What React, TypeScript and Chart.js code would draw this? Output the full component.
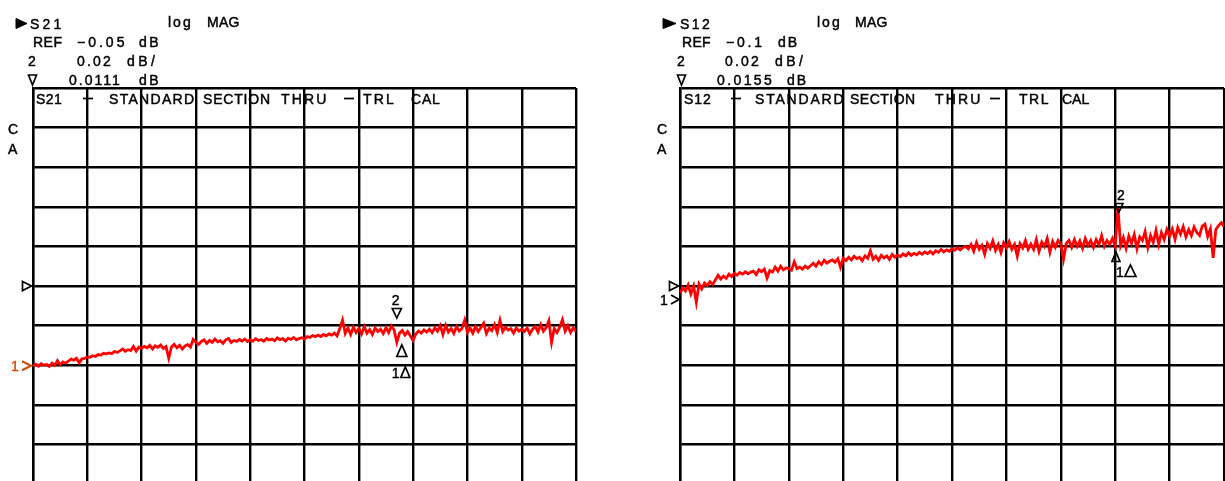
import React, { useEffect, useRef } from "react";
import { Chart, registerables } from "chart.js";

Chart.register(...registerables);

// ---------------- data ----------------
const POINT_COUNT = 201;
const POINT_INDEX: number[] = Array.from({ length: POINT_COUNT }, (_, i) => i);

const S21_DB: number[] = [
  -0.0903, -0.0895, -0.0905, -0.0892, -0.09, -0.0897, -0.0906, -0.089, -0.0901, -0.0877,
  -0.0898, -0.0884, -0.089, -0.088, -0.0869, -0.0875, -0.0865, -0.0888, -0.0868, -0.0866,
  -0.0858, -0.086, -0.0852, -0.0856, -0.0846, -0.0849, -0.084, -0.0843, -0.0838, -0.0842,
  -0.083, -0.0836, -0.0828, -0.0818, -0.083, -0.0822, -0.0826, -0.0805, -0.0829, -0.0808,
  -0.0815, -0.0805, -0.0812, -0.08, -0.0818, -0.0802, -0.081, -0.0798, -0.0815, -0.0806,
  -0.0865, -0.0808, -0.0795, -0.0812, -0.08, -0.0818, -0.0803, -0.0796, -0.0808, -0.077,
  -0.0785, -0.0795, -0.078, -0.0772, -0.079, -0.0775, -0.0785, -0.0768, -0.0782, -0.0776,
  -0.079, -0.0772, -0.0765, -0.0785, -0.0775, -0.078, -0.077, -0.0778, -0.0768, -0.078,
  -0.0772, -0.0778, -0.0766, -0.0775, -0.077, -0.0779, -0.0765, -0.0773, -0.0768, -0.0776,
  -0.0762, -0.0771, -0.0766, -0.0778, -0.0764, -0.077, -0.076, -0.0772, -0.0765, -0.0761,
  -0.0768, -0.0755, -0.076, -0.075, -0.0756, -0.0748, -0.0755, -0.0745, -0.0752, -0.0742,
  -0.0748, -0.0738, -0.0752, -0.0715, -0.0672, -0.074, -0.0712, -0.0745, -0.0708, -0.0735,
  -0.0715, -0.0742, -0.0705, -0.0738, -0.072, -0.0745, -0.0712, -0.073, -0.0718, -0.074,
  -0.071, -0.0735, -0.0702, -0.0722, -0.0785, -0.0738, -0.0725, -0.0748, -0.073, -0.0752,
  -0.0775, -0.0742, -0.0728, -0.0738, -0.0722, -0.0733, -0.0718, -0.0735, -0.0712, -0.0728,
  -0.07, -0.0745, -0.0698, -0.0732, -0.0715, -0.074, -0.0705, -0.0728, -0.0715, -0.0672,
  -0.0735, -0.0712, -0.0738, -0.0705, -0.073, -0.071, -0.0688, -0.074, -0.0712, -0.0725,
  -0.0695, -0.0735, -0.0673, -0.073, -0.0708, -0.0722, -0.0715, -0.0738, -0.0712, -0.0728,
  -0.0718, -0.073, -0.0712, -0.0742, -0.0718, -0.0705, -0.0732, -0.0695, -0.0728, -0.071,
  -0.0675, -0.0785, -0.0715, -0.0735, -0.0708, -0.067, -0.0728, -0.07, -0.0735, -0.0712,
  -0.0728,
];

const S12_DB: number[] = [
  -0.1037, -0.101, -0.1025, -0.0995, -0.104, -0.1, -0.1082, -0.099, -0.1015, -0.0985,
  -0.0998, -0.0978, -0.0992, -0.097, -0.0945, -0.0965, -0.095, -0.0962, -0.094, -0.0952,
  -0.0936, -0.0945, -0.0932, -0.094, -0.0928, -0.0938, -0.093, -0.0925, -0.0942, -0.0918,
  -0.0928, -0.0915, -0.096, -0.0922, -0.093, -0.0905, -0.0925, -0.09, -0.0918, -0.0908,
  -0.0912, -0.092, -0.0878, -0.0912, -0.0905, -0.0915, -0.09, -0.091, -0.0898, -0.0885,
  -0.09, -0.0878, -0.0892, -0.087, -0.0885, -0.0875, -0.0868, -0.088, -0.0862, -0.0905,
  -0.086, -0.0872, -0.0855, -0.0868, -0.085, -0.0862, -0.0855, -0.0872, -0.0848, -0.086,
  -0.0822, -0.0865, -0.085, -0.087, -0.0845, -0.0858, -0.0848, -0.0866, -0.084, -0.0855,
  -0.0843, -0.0852, -0.0838, -0.0848, -0.0832, -0.0845, -0.0835, -0.0842, -0.083, -0.084,
  -0.0828, -0.0836, -0.0825, -0.0838, -0.0822, -0.083, -0.0815, -0.0828, -0.0818, -0.0825,
  -0.0812, -0.082, -0.0806, -0.0818, -0.0805, -0.08, -0.0812, -0.079, -0.0825, -0.078,
  -0.0815, -0.0795, -0.084, -0.0785, -0.081, -0.0772, -0.082, -0.079, -0.0832, -0.0782,
  -0.0805, -0.0775, -0.0815, -0.079, -0.085, -0.0785, -0.0808, -0.077, -0.0815, -0.0788,
  -0.0815, -0.0765, -0.0825, -0.0778, -0.08, -0.076, -0.083, -0.0775, -0.0805, -0.077,
  -0.079, -0.0865, -0.0785, -0.077, -0.0805, -0.0765, -0.08, -0.0772, -0.081, -0.076,
  -0.0795, -0.077, -0.0805, -0.0765, -0.0792, -0.0745, -0.08, -0.077, -0.079, -0.076,
  -0.08, -0.0605, -0.0795, -0.0755, -0.081, -0.0748, -0.0785, -0.074, -0.0812, -0.0752,
  -0.077, -0.0725, -0.0805, -0.0745, -0.078, -0.072, -0.079, -0.073, -0.0765, -0.0715,
  -0.0748, -0.0712, -0.0765, -0.0705, -0.0738, -0.07, -0.0752, -0.0715, -0.0745, -0.0702,
  -0.073, -0.0745, -0.0698, -0.0688, -0.075, -0.0712, -0.0858, -0.0715, -0.0695, -0.068,
  -0.07,
];

const S21_REF_DB = -0.05;
const S12_REF_DB = -0.1;
const DB_PER_DIV = 0.02;
const DIVISIONS = 10;

const S21_HEADER = { param: "S21", ref: "\u22120.05", scale: "0.02", delta: "0.0111" };
const S12_HEADER = { param: "S12", ref: "\u22120.1", scale: "0.02", delta: "0.0155" };
const TITLE_WORDS = ["STANDARD", "SECTION", "THRU", "TRL", "CAL"];

const S21_MARKER2_INDEX = 134;
const S12_MARKER2_INDEX = 161;

// ---------------- drawing helpers ----------------
const FONT = "14px 'Liberation Sans', Arial, sans-serif";

type Pt = [number, number];

function poly(ctx: CanvasRenderingContext2D, pts: Pt[], close: boolean, fill: boolean, color = "#000", lw = 1.7) {
  ctx.save();
  ctx.beginPath();
  ctx.moveTo(pts[0][0], pts[0][1]);
  for (let i = 1; i < pts.length; i++) ctx.lineTo(pts[i][0], pts[i][1]);
  if (close) ctx.closePath();
  ctx.lineWidth = lw;
  ctx.strokeStyle = color;
  ctx.fillStyle = color;
  ctx.lineJoin = "miter";
  if (fill) ctx.fill();
  ctx.stroke();
  ctx.restore();
}

function txt(ctx: CanvasRenderingContext2D, s: string, x: number, y: number, spacing = 0, color = "#000") {
  ctx.save();
  ctx.font = FONT;
  (ctx as any).letterSpacing = spacing + "px";
  ctx.fillStyle = color;
  ctx.strokeStyle = color;
  ctx.lineWidth = 0.45;
  ctx.textBaseline = "alphabetic";
  ctx.textAlign = "left";
  ctx.fillText(s, x, y);
  ctx.strokeText(s, x, y);
  ctx.restore();
}

type Layout = {
  offsetX: number;
  header: { param: string; ref: string; scale: string; delta: string };
  markerIndex: number;
  isLeft: boolean;
};

function makeOverlay(L: Layout) {
  return {
    id: "vnaOverlay" + (L.isLeft ? "L" : "R"),
    afterDraw(chart: any) {
      const ctx: CanvasRenderingContext2D = chart.ctx;
      const o = L.offsetX;
      const X = (px: number) => px - o;
      const xs = chart.scales.x;
      const ys = chart.scales.y;
      const h = L.header;

      if (L.isLeft) {
        // header
        poly(ctx, [[X(16), 18.5], [X(27), 23.5], [X(16), 28.5]], true, true, "#000", 1);
        txt(ctx, h.param, X(30), 29, 3.2);
        txt(ctx, "log", X(168), 26.5, 2);
        txt(ctx, "MAG", X(207), 26.5, 0.3);
        txt(ctx, "REF", X(33), 47, 0.5);
        txt(ctx, h.ref, X(77), 47, 3);
        txt(ctx, "dB", X(139), 47, 2.5);
        txt(ctx, "2", X(28), 66);
        txt(ctx, h.scale, X(77), 66, 2.2);
        txt(ctx, "dB/", X(127), 66, 3.5);
        poly(ctx, [[X(28.5), 75], [X(36.5), 75], [X(32.5), 85]], true, false);
        txt(ctx, h.delta, X(69), 85, 2);
        txt(ctx, "dB", X(139), 85, 2.5);
        // title row
        txt(ctx, h.param, X(36), 104, 0.5);
        poly(ctx, [[X(83), 98.5], [X(93), 98.5]], false, false, "#000", 1.7);
        txt(ctx, TITLE_WORDS[0], X(109), 104, 1.3);
        txt(ctx, TITLE_WORDS[1], X(203), 104, 0.8);
        txt(ctx, TITLE_WORDS[2], X(281), 104, 2.2);
        poly(ctx, [[X(344), 98.5], [X(354), 98.5]], false, false, "#000", 1.7);
        txt(ctx, TITLE_WORDS[3], X(363), 104, 2.2);
        txt(ctx, TITLE_WORDS[4], X(411), 104, 0.8);
        // C / A
        txt(ctx, "C", X(8), 134);
        txt(ctx, "A", X(8), 154);
        // reference position marker
        const ry = ys.getPixelForValue(S21_REF_DB);
        poly(ctx, [[X(22.5), ry - 4.5], [X(31.5), ry], [X(22.5), ry + 4.5]], true, false);
        // marker 1 (start)
        const m1y = ys.getPixelForValue(S21_DB[0]);
        txt(ctx, "1", X(11), m1y + 5, 0, "#c8500a");
        poly(ctx, [[X(22), m1y - 4.5], [X(31), m1y], [X(22), m1y + 4.5]], false, false, "#c8500a", 2.2);
        // marker 2
        const mx = xs.getPixelForValue(L.markerIndex);
        txt(ctx, "2", mx - 5, 305);
        poly(ctx, [[mx - 4.5, 308.5], [mx + 4.5, 308.5], [mx, 318]], true, false);
        poly(ctx, [[mx, 356.5], [mx + 10, 356.5], [mx + 5, 345]], true, false);
        txt(ctx, "1", mx - 5, 378);
        poly(ctx, [[mx + 4, 377.5], [mx + 13, 377.5], [mx + 8.5, 367]], true, false);
      } else {
        poly(ctx, [[X(663), 18.5], [X(676), 23.5], [X(663), 28.5]], true, true, "#000", 1);
        txt(ctx, h.param, X(680), 29, 2.5);
        txt(ctx, "log", X(817), 26.5, 2);
        txt(ctx, "MAG", X(855), 26.5, 0.3);
        txt(ctx, "REF", X(682), 47, 0.3);
        txt(ctx, h.ref, X(726), 47, 2.8);
        txt(ctx, "dB", X(778), 47, 2);
        txt(ctx, "2", X(677), 66);
        txt(ctx, h.scale, X(725), 66, 2.2);
        txt(ctx, "dB/", X(775), 66, 3.5);
        poly(ctx, [[X(677.5), 75], [X(685.5), 75], [X(681.5), 85]], true, false);
        txt(ctx, h.delta, X(717), 85, 2.4);
        txt(ctx, "dB", X(787), 85, 2);
        // title row
        txt(ctx, h.param, X(684), 104, 1);
        poly(ctx, [[X(731), 98.5], [X(741), 98.5]], false, false, "#000", 1.7);
        txt(ctx, TITLE_WORDS[0], X(755), 104, 1.8);
        txt(ctx, TITLE_WORDS[1], X(850), 104, 0.5);
        txt(ctx, TITLE_WORDS[2], X(935), 104, 2.2);
        poly(ctx, [[X(990), 98.5], [X(1000), 98.5]], false, false, "#000", 1.7);
        txt(ctx, TITLE_WORDS[3], X(1019), 104, 1.5);
        txt(ctx, TITLE_WORDS[4], X(1062), 104, 0);
        txt(ctx, "C", X(657), 134);
        txt(ctx, "A", X(657), 154);
        const ry = ys.getPixelForValue(S12_REF_DB);
        poly(ctx, [[X(669.5), ry - 4.5], [X(678.5), ry], [X(669.5), ry + 4.5]], true, false);
        txt(ctx, "1", X(660), 304.5);
        poly(ctx, [[X(671), 295], [X(679), 299.5], [X(671), 304]], false, false, "#000", 1.9);
        const mx = xs.getPixelForValue(L.markerIndex);
        txt(ctx, "2", mx - 1, 200);
        poly(ctx, [[mx - 3, 203.5], [mx + 5, 203.5], [mx + 1, 212]], true, false);
        poly(ctx, [[mx - 6, 261.5], [mx + 2, 261.5], [mx - 2, 252]], true, false);
        txt(ctx, "1", mx - 2, 277);
        poly(ctx, [[mx + 7, 276.5], [mx + 18, 276.5], [mx + 12.5, 265]], true, false);
      }
    },
  };
}

function buildConfig(values: number[], ref: number, L: Layout, pad: { left: number; right: number; top: number; bottom: number }) {
  const half = (DB_PER_DIV * DIVISIONS) / 2;
  return {
    type: "line" as const,
    data: {
      datasets: [
        {
          data: values.map((v, i) => ({ x: POINT_INDEX[i], y: v })),
          borderColor: "#ff0000",
          borderWidth: 2.8,
          pointRadius: 0,
          tension: 0,
          fill: false,
        },
      ],
    },
    options: {
      responsive: false,
      animation: false as const,
      devicePixelRatio: 1,
      layout: { padding: pad },
      plugins: { legend: { display: false }, tooltip: { enabled: false }, title: { display: false } },
      scales: {
        x: {
          type: "linear" as const,
          min: 0,
          max: POINT_COUNT - 1,
          ticks: { display: false, stepSize: (POINT_COUNT - 1) / DIVISIONS },
          grid: { color: "#000", lineWidth: 2.4, drawTicks: false },
          border: { display: true, color: "#000", width: 2.4 },
        },
        y: {
          type: "linear" as const,
          min: ref - half,
          max: ref + half,
          ticks: { display: false, stepSize: DB_PER_DIV },
          grid: { color: "#000", lineWidth: 2.4, drawTicks: false },
          border: { display: true, color: "#000", width: 2.4 },
        },
      },
    },
    plugins: [makeOverlay(L)],
  };
}

export default function App() {
  const leftRef = useRef<HTMLCanvasElement>(null);
  const rightRef = useRef<HTMLCanvasElement>(null);

  useEffect(() => {
    document.body.style.margin = "0";
    document.body.style.overflow = "hidden";
    const charts: Chart[] = [];
    if (leftRef.current) {
      charts.push(
        new Chart(
          leftRef.current,
          buildConfig(
            S21_DB,
            S21_REF_DB,
            { offsetX: 0, header: S21_HEADER, markerIndex: S21_MARKER2_INDEX, isLeft: true },
            { left: 33, right: 36, top: 88, bottom: 16 }
          ) as any
        )
      );
    }
    if (rightRef.current) {
      charts.push(
        new Chart(
          rightRef.current,
          buildConfig(
            S12_DB,
            S12_REF_DB,
            { offsetX: 612, header: S12_HEADER, markerIndex: S12_MARKER2_INDEX, isLeft: false },
            { left: 68, right: 1, top: 88, bottom: 16 }
          ) as any
        )
      );
    }
    return () => charts.forEach((c) => c.destroy());
  }, []);

  return (
    <div style={{ position: "relative", width: 1225, height: 481, overflow: "hidden", background: "#fff" }}>
      <canvas ref={leftRef} width={612} height={500} style={{ position: "absolute", left: 0, top: 0, width: 612, height: 500 }} />
      <canvas ref={rightRef} width={613} height={500} style={{ position: "absolute", left: 612, top: 0, width: 613, height: 500 }} />
    </div>
  );
}
